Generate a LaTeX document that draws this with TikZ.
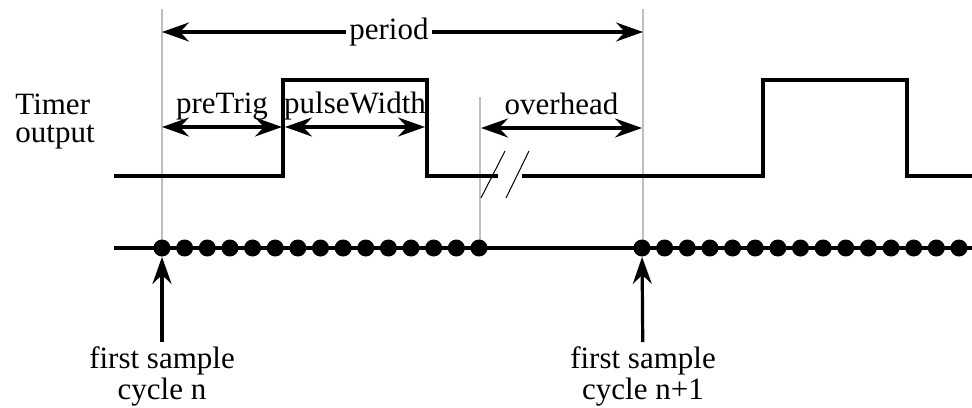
\documentclass[tikz,border=0pt]{standalone}
\usepackage{fontspec}
\setmainfont{Liberation Serif}
\usepackage{tikz}
\usetikzlibrary{arrows.meta,positioning}
\definecolor{guidegray}{RGB}{191,191,191}
\newcommand{\figfont}{\fontsize{15.5}{15.5}\selectfont}
\tikzset{barb/.tip={Stealth[length=13.5pt,width=9.5pt,inset=4.5pt]}}

\begin{document}
\begin{tikzpicture}[x=0.5pt,y=-0.5pt,font=\figfont,
    guide/.style={draw=guidegray,line width=1.3pt},
    wave/.style={line width=1.6pt},
    dim/.style={line width=1.6pt,barb-barb},
    ptr/.style={line width=1.6pt,-barb},
    lbl/.style={above,text height=0.7em,text depth=0.25em},
    smp/.style={circle,fill=black,inner sep=0pt,minimum size=8.5pt},
    capnode/.style={anchor=north,align=center,inner xsep=0pt,inner ysep=2pt}]
  \useasboundingbox (0,0) rectangle (972,407);
  %% guide lines at the cycle boundaries
  \draw[guide] (162,9) -- (162,248);
  \draw[guide] (643,9) -- (643,248);
  \draw[guide] (480,97) -- (480,248);
  %% timer output
  \node[anchor=north west,inner sep=0pt,align=left] (timer) at (15,94)
    {Timer\\[-1.5pt]output};
  \draw[wave] (114,176) -- (283,176) -- (283,80) -- (427,80)
    -- (427,176) -- (498,176);
  \draw[wave] (522,176) -- (763,176) -- (763,80) -- (907,80)
    -- (907,176) -- (972,176);
  \draw[line width=0.5pt] (481,198) -- (505,151) (506,198) -- (529,151);
  %% period
  \node[inner xsep=1.5pt] (period) at (389,32) {period};
  \coordinate (perL) at (162,32);
  \coordinate (perR) at (643,32);
  \draw[ptr] (period.west) -- (perL);
  \draw[ptr] (period.east) -- (perR);
  %% preTrig, pulseWidth, overhead
  \coordinate (preL) at (162,127);
  \coordinate (preR) at (282,127);
  \coordinate (pwL) at (285,127);
  \coordinate (pwR) at (425,127);
  \coordinate (ovL) at (481,128);
  \coordinate (ovR) at (642,128);
  \draw[dim] (preL) -- node[lbl] {preTrig} (preR);
  \draw[dim] (pwL) -- node[lbl] {pulseWidth} (pwR);
  \draw[dim] (ovL) -- node[lbl] {overhead} (ovR);
  %% samples
  \draw[wave] (114,248) -- (972,248);
  \foreach \i in {0,...,14} {
    \node[smp] (a\i) at ({162+\i*22.64},248) {};
    \node[smp] (b\i) at ({642+\i*22.64},248) {};
  }
  \node[capnode] (capn) at (162,342) {first sample\\cycle n};
  \node[capnode] (capm) at (643,342) {first sample\\cycle n+1};
  \draw[ptr] (capn) -- (a0);
  \draw[ptr] (capm) -- (b0);
\end{tikzpicture}
\end{document}
